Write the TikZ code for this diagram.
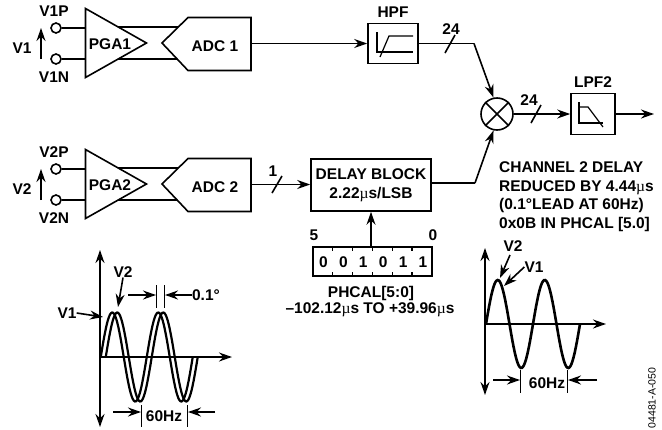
\documentclass[tikz,border=0pt]{standalone}
\usepackage{fontspec}
\setmainfont{Liberation Sans}
\newfontfamily\mufont{Liberation Serif}
\newcommand{\us}{{\mufont\mdseries µ}s}
\usetikzlibrary{calc, arrows.meta, positioning}
\tikzset{
    >={Stealth[length=13pt,width=9pt]},
    font=\fontsize{15.5}{18}\selectfont\bfseries,
    wire/.style={line width=1.6pt},
    txt/.style={inner sep=0pt},
    blockbox/.style={draw, line width=1.6pt, inner sep=0pt, align=center},
    pin/.style={draw, circle, line width=1.6pt, minimum size=10pt, inner sep=0pt},
    wave/.style={line width=2.2pt},
    dimtick/.style={line width=1pt}
}

\begin{document}
\begin{tikzpicture}[x=1pt, y=-1pt]
    \useasboundingbox (0,0) rectangle (662,429);

    % Input channels
    \foreach \n/\y in {1/0, 2/141} {
        \begin{scope}[shift={(0,\y)}]
            \draw[wire] (118,27) -- (178,27);
            \draw[wire] (118,59) -- (178,59);
            \draw[wire, fill=white] (85.5,8.5) -- (146.5,43) -- (85.5,77.5) -- cycle;
            \draw[wire, fill=white] (162,43) -- (188,17.5) -- (251,17.5) -- (251,70.5) -- (188,70.5) -- cycle;
            \node[pin] (pinp\n) at (56,28) {};
            \node[pin] (pinn\n) at (56,59) {};
            \coordinate (pgap\n) at (85.5,28);
            \coordinate (pgan\n) at (85.5,59);
            \coordinate (adc\n) at (251,43.5);
            \draw[wire] (pinp\n) -- (pgap\n);
            \draw[wire] (pinn\n) -- (pgan\n);
            \coordinate (sensep\n) at (41,28);
            \coordinate (sensen\n) at (41,59);
            \draw[->, wire] (sensen\n) -- (sensep\n);
            \node[txt] (lblp\n) at (54,11) {V\n P};
            \node[txt] (lbln\n) at (54,77) {V\n N};
            \node[txt] (lblv\n) at (22,48) {V\n};
            \node[txt] (pga\n) at (110,44) {PGA\n};
            \node[txt] (adclbl\n) at (215,46) {ADC \n};
        \end{scope}
    }

    % Filters and mixer
    \node[blockbox, minimum width=50pt, minimum height=40pt] (hpf) at (393,43.5) {};
    \node[txt, above=5pt of hpf] (hpflbl) {HPF};
    \draw[line width=1.2pt] (377,32) -- (377,52) -- (413,52);
    \draw[line width=1.2pt] (380,57) -- (389,36) -- (413,36);
    \node[draw, circle, line width=1.6pt, minimum size=32pt, inner sep=0pt] (mix) at (497,114) {};
    \draw[wire] (mix.45) -- (mix.225);
    \draw[wire] (mix.135) -- (mix.315);
    \node[blockbox, minimum width=44pt, minimum height=41pt] (lpf) at (593,114) {};
    \node[txt, above=5pt of lpf] (lpflbl) {LPF2};
    \draw[line width=1.2pt] (579,102) -- (579,123) -- (603,123);
    \draw[line width=1.2pt] (579,107) -- (588,107) -- (603,127);
    \coordinate (hpfbend) at (474,43.5);
    \coordinate (delaybend) at (475,183);
    \coordinate (lpfout) at (654,114);

    % Delay and register
    \node[blockbox, minimum width=120pt, minimum height=52pt, font=\fontsize{15.5}{19.5}\selectfont\bfseries] (delay) at (371,185) {DELAY BLOCK\\2.22\us/LSB};
    \node[blockbox, minimum width=119pt, minimum height=29pt] (reg) at (372.5,261.5) {};
    \foreach \d [count=\i from 0] in {0,0,1,0,1,1} {
        \node[txt] (bit\i) at ({323.5+19.9*\i},262) {\d};
    }
    \foreach \i in {1,...,5} {
        \draw[line width=1.2pt] ({313+19.8*\i},247) -- ++(0,4);
        \draw[line width=1.2pt] ({313+19.8*\i},276) -- ++(0,-4);
    }
    \node[txt] (msb) at (314,235) {5};
    \node[txt] (lsb) at (433,235) {0};
    \node[txt] (regname) at (371,293) {PHCAL[5:0]};
    \node[txt] (regrange) at (370,310) {--102.12\us{} TO +39.96\us};
    \node[txt, align=left, anchor=north west, font=\fontsize{15.5}{18.6}\selectfont\bfseries] (note) at (499,161.5) {CHANNEL 2 DELAY\\REDUCED BY 4.44\us\\(0.1°LEAD AT 60Hz)\\0x0B IN PHCAL [5.0]};

    % Connectors
    \draw[->, wire] (adc1) -- (hpf.west);
    \draw[wire] (hpf.east) -- (hpfbend);
    \draw[->, wire] (hpfbend) -- (mix.102);
    \draw[->, wire] (mix.east) -- (lpf.west);
    \draw[->, wire] (lpf.east) -- (lpfout);
    \draw[->, wire] (adc2) -- (adc2 -| delay.west);
    \draw[wire] (delay.east |- delaybend) -- (delaybend);
    \draw[->, wire] (delaybend) -- (mix.258);
    \draw[->, wire] (reg.north -| delay) -- (delay.south);

    % Bus marks
    \draw[wire] (272,193) -- (282,176);
    \node[txt] (buswidth) at (273,171) {1};
    \draw[wire] (445,53) -- (455,35);
    \node[txt] (hpfwidth) at (451,29) {24};
    \draw[wire] (531,123) -- (541,105);
    \node[txt] (lpfwidth) at (529,100) {24};

    % Waves at 0.1 deg
    \draw[<->, wire] (100,250) -- (100,427);
    \coordinate (leftzero) at (100,357);
    \draw[->, wire] (leftzero) -- (232,357);
    \draw[wave] plot[domain=100.75:192.75, samples=90] (\x, {357-44.5*sin((\x-100.75)*7.826)});
    \draw[wave] plot[domain=105.75:197.75, samples=90] (\x, {357-44.5*sin((\x-105.75)*7.826)});
    \node[txt] (leftvtwo) at (123,272) {V2};
    \node[txt] (leftvone) at (67,313) {V1};
    \coordinate (leftpeak) at (118,307);
    \coordinate (leftedge) at (103,317);
    \draw[->, wire] (leftvtwo.south) -- (leftpeak);
    \draw[->, wire] (leftvone.east) -- (leftedge);
    \draw[dimtick] (156.5,285) -- (156.5,308);
    \draw[dimtick] (164,285) -- (164,308);
    \draw[->, wire] (128,295) -- (156,295);
    \node[txt] (phase) at (206,295) {0.1°};
    \draw[->, wire] (phase.west) -- (165,295);
    \draw[dimtick] (141,405) -- (141,427);
    \draw[dimtick] (187,405) -- (187,427);
    \draw[->, wire] (113,412) -- (141,412);
    \draw[->, wire] (215,412) -- (188,412);
    \node[txt] (leftfreq) at (164,416) {60Hz};

    % Waves after calibration
    \draw[<->, wire] (485,248) -- (485,395);
    \coordinate (rightzero) at (485,324);
    \draw[->, wire] (rightzero) -- (606,324);
    \draw[wave, line width=2.6pt] plot[domain=486:580, samples=90] (\x, {324-44*sin((\x-486)*7.66)});
    \node[txt] (rightvtwo) at (513,246) {V2};
    \node[txt] (rightvone) at (534,267) {V1};
    \coordinate (rightpeak) at (500,278);
    \coordinate (rightslope) at (504,286);
    \draw[->, wire] (510,255) -- (rightpeak);
    \draw[->, wire] (rightvone.west) -- (rightslope);
    \draw[dimtick] (520,370) -- (520,393);
    \draw[dimtick] (567,370) -- (567,393);
    \draw[->, wire] (493,380) -- (520,380);
    \draw[->, wire] (597,380) -- (568,380);
    \node[txt] (rightfreq) at (547,383) {60Hz};

    \node[txt, rotate=90, font=\fontsize{10.5}{12}\selectfont] (figid) at (652,398) {04481-A-050};
\end{tikzpicture}
\end{document}
